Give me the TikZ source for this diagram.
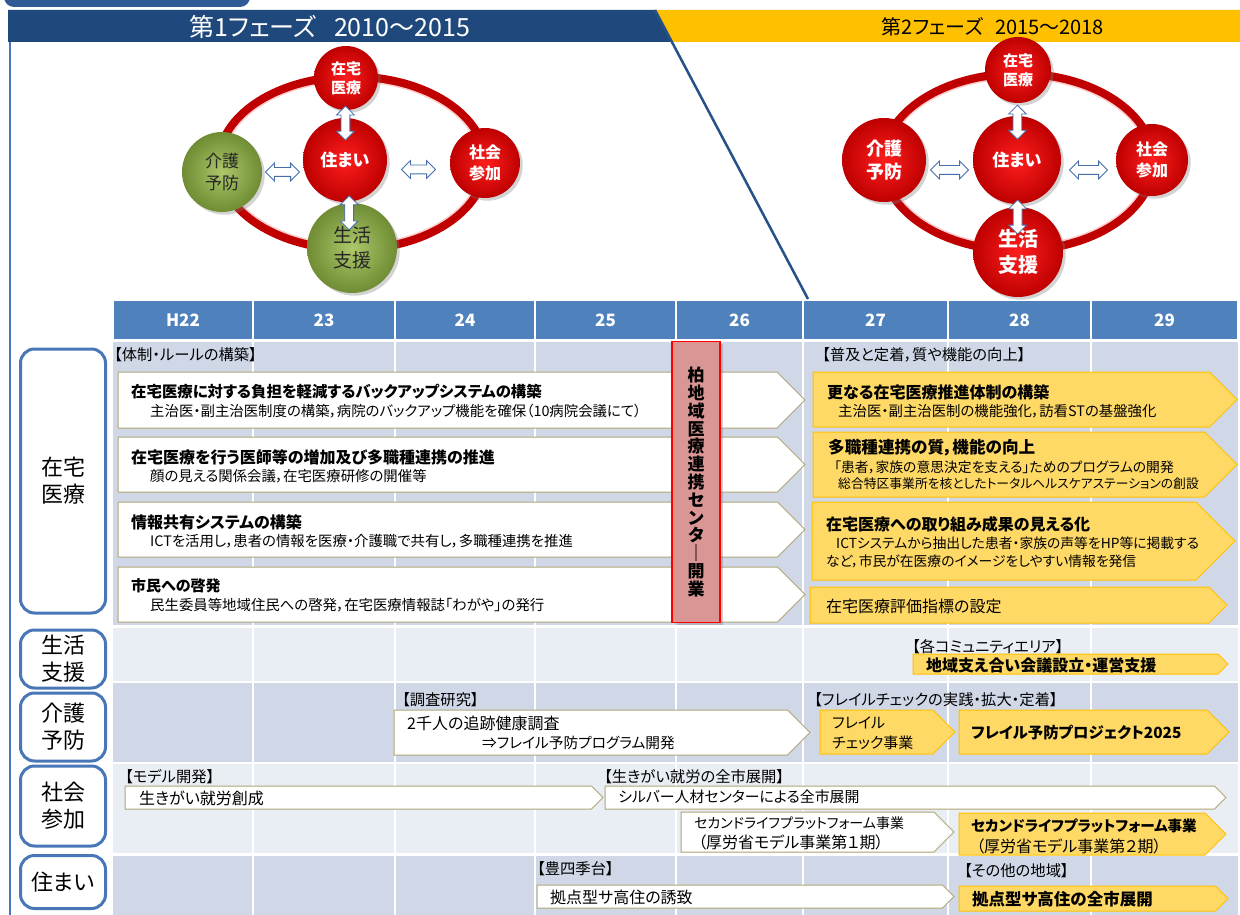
\documentclass[tikz,border=0pt]{standalone}
\usepackage{fontspec}
\setmainfont{Noto Sans CJK JP}[RawFeature=+palt]
\usetikzlibrary{calc,positioning,shapes.arrows,shadows}
\definecolor{navy}{RGB}{31,73,125}
\definecolor{tabblue}{RGB}{47,90,150}
\definecolor{phaseor}{RGB}{255,192,0}
\definecolor{hdrblue}{RGB}{79,129,189}
\definecolor{secblue}{RGB}{72,118,182}
\definecolor{banddark}{RGB}{208,216,232}
\definecolor{bandlight}{RGB}{233,237,244}
\definecolor{tanline}{RGB}{176,166,120}
\definecolor{ylfill}{RGB}{255,217,102}
\definecolor{ylline}{RGB}{255,192,0}
\definecolor{pinkbox}{RGB}{218,150,148}
\definecolor{ringred}{RGB}{192,0,0}
\definecolor{arrowblue}{RGB}{70,110,170}
\newcommand{\fz}[2]{\fontsize{#1pt}{#2pt}\selectfont}
% arrow shaped box: style, name, x1, y1, tip x, y2
\newcommand{\tagbox}[6]{%
  \draw[#1] (#3,#4) coordinate (#2) -- ({#5-(#6-#4)/2},#4) -- (#5,{(#4+#6)/2})
    -- ({#5-(#6-#4)/2},#6) -- (#3,#6) -- cycle;}
\tikzset{
  wbox/.style={draw=tanline, fill=white, line width=1pt},
  ybox/.style={draw=ylline, fill=ylfill, line width=1pt},
  lbl/.style={anchor=west, inner sep=0, font=\fz{15.3}{18}},
  ttl/.style={anchor=west, inner sep=0, font=\bfseries\fz{16}{19}},
  sub/.style={anchor=west, inner sep=0, font=\fz{14.4}{17}},
  txt/.style={anchor=west, inner sep=0, font=\fz{16}{19}},
  secbox/.style={
    draw=secblue,
    line width=3pt,
    rounded corners=14pt,
    fill=white,
    minimum width=85,
    align=center,
    inner sep=0,
    font=\fz{22}{27}
  },
  yr/.style={text=white, inner sep=0, font=\bfseries\fz{17}{20}},
  redball/.style={
    circle,
    inner sep=0,
    align=center,
    text=white,
    inner color={rgb,255:red,255;green,30;blue,30},
    outer color={rgb,255:red,190;green,0;blue,0},
    drop shadow={opacity=0.35}
  },
  greenball/.style={
    circle,
    inner sep=0,
    align=center,
    text=black!85,
    inner color={rgb,255:red,172;green,200;blue,105},
    outer color={rgb,255:red,112;green,140;blue,52},
    drop shadow={opacity=0.35}
  },
  dbl/.style={
    double arrow,
    draw=arrowblue,
    fill=white,
    line width=0.8pt,
    inner sep=4,
    double arrow head extend=4.5,
    minimum height=34
  },
  ring/.style={draw=ringred, line width=9pt},
  ringhi/.style={draw=red!20!white, line width=1.5pt}
}
\begin{document}
\begin{tikzpicture}[x=1pt,y=-1pt]
\useasboundingbox (0,0) rectangle (1240,915);
% phase bands
\fill[tabblue, rounded corners=10pt] (4,-20) rectangle (250,7);
\fill[navy] (8,10) -- (655,10) -- (672,42) -- (8,42) -- cycle;
\fill[phaseor] (655,10) -- (1240,10) -- (1240,42) -- (672,42) -- cycle;
\node[font=\fz{25}{30}, text=white] (ph1) at (330,27) {第1フェーズ\hspace{0.7em}2010～2015};
\node[font=\fz{20}{24}] (ph2) at (993,27) {第2フェーズ\hspace{0.6em}2015～2018};
\coordinate (sl1) at (655,10);
\coordinate (sl2) at (808,299);
\draw[navy!85!hdrblue, line width=2.5pt] (sl1) -- (sl2);
\draw[secblue, line width=2pt] (10,42) -- (10,915);

% phase 1 circles
\draw[ring] (352,163) ellipse [x radius=133, y radius=86];
\draw[ringhi] (352,163) ellipse [x radius=128.5, y radius=81.5];
\node[redball, minimum size=64, font=\bfseries\fz{15}{19}] (p1zt) at (346,78) {在宅\\医療};
\node[redball, minimum size=84, font=\bfseries\fz{17}{20}] (p1sm) at (345,160) {住まい};
\node[greenball, minimum size=80, font=\fz{17}{22}] (p1kg) at (222,172) {介護\\予防};
\node[redball, minimum size=70, font=\bfseries\fz{16}{21}] (p1sk) at (485,163) {社会\\参加};
\node[greenball, minimum size=90, font=\fz{19}{25}] (p1sc) at (352,248) {生活\\支援};
\node[dbl, rotate=90] (a11) at ($(p1zt)!0.55!(p1sm)$) {};
\node[dbl, rotate=90] (a12) at ($(p1sm)!0.6!(p1sc)$) {};
\node[dbl, yshift=-6] (a13) at ($(p1kg.east)!0.5!(p1sm.west)$) {};
\node[dbl, yshift=-8] (a14) at ($(p1sm.east)!0.5!(p1sk.west)$) {};

% phase 2 circles
\draw[ring] (1018,162) ellipse [x radius=135, y radius=88];
\draw[ringhi] (1018,162) ellipse [x radius=130.5, y radius=83.5];
\node[redball, minimum size=66, font=\bfseries\fz{15}{19}] (p2zt) at (1018,70) {在宅\\医療};
\node[redball, minimum size=88, font=\bfseries\fz{17}{20}] (p2sm) at (1017,160) {住まい};
\node[redball, minimum size=84, font=\bfseries\fz{18}{23}] (p2kg) at (884,160) {介護\\予防};
\node[redball, minimum size=72, font=\bfseries\fz{16}{21}] (p2sk) at (1152,160) {社会\\参加};
\node[redball, minimum size=90, font=\bfseries\fz{20}{26}] (p2sc) at (1018,252) {生活\\支援};
\node[dbl, rotate=90] (a21) at ($(p2zt)!0.58!(p2sm)$) {};
\node[dbl, rotate=90] (a22) at ($(p2sm)!0.62!(p2sc)$) {};
\node[dbl, minimum height=38, yshift=-10] (a23) at ($(p2kg.east)!0.5!(p2sm.west)$) {};
\node[dbl, minimum height=38, yshift=-10] (a24) at ($(p2sm.east)!0.5!(p2sk.west)$) {};

% year header
\foreach \xa/\xb/\t [count=\i] in {113/253/H22,253/395/23,395/535/24,535/676/25,676/803/26,803/948/27,948/1091/28,1091/1238/29}{
  \fill[hdrblue] (\xa+1,301) rectangle (\xb-1,339);
  \node[yr] (yr\i) at ({(\xa+\xb)/2},320) {\t};}

% row bands
\foreach \ya/\yb/\c in {342/625/banddark,628/681/bandlight,683/762/banddark,764/853/bandlight,856/915/banddark}
  \fill[\c] (113,\ya) rectangle (1238,\yb);
\foreach \x in {253,395,535,676,803,948,1091}
  \draw[white, line width=2pt] (\x,342) -- (\x,915);

% row titles
\node[secbox, minimum height=264] (s1) at (63,481) {在宅\\医療};
\node[secbox, minimum height=58] (s2) at (63,659) {生活\\支援};
\node[secbox, minimum height=68] (s3) at (63,727) {介護\\予防};
\node[secbox, minimum height=80] (s4) at (63,806) {社会\\参加};
\node[secbox, minimum height=53] (s5) at (63,882) {住まい};

% zaitaku iryo
\node[lbl] (l1) at (114,355) {【体制・ルールの構築】};
\tagbox{wbox}{w1}{118}{372}{805}{428}
\node[ttl, font=\bfseries\fz{15.4}{19}] (w1a) at (131,392) {在宅医療に対する負担を軽減するバックアップシステムの構築};
\node[sub] (w1b) at (150,411) {主治医・副主治医制度の構築，病院のバックアップ機能を確保（10病院会議にて）};
\tagbox{wbox}{w2}{118}{437}{805}{492}
\node[ttl] (w2a) at (131,457) {在宅医療を行う医師等の増加及び多職種連携の推進};
\node[sub] (w2b) at (150,476) {顔の見える関係会議，在宅医療研修の開催等};
\tagbox{wbox}{w3}{118}{502}{805}{557}
\node[ttl] (w3a) at (131,522) {情報共有システムの構築};
\node[sub] (w3b) at (150,541) {ICTを活用し，患者の情報を医療・介護職で共有し，多職種連携を推進};
\tagbox{wbox}{w4}{118}{567}{805}{622}
\node[ttl, font=\bfseries\fz{15}{19}] (w4a) at (131,586) {市民への啓発};
\node[sub] (w4b) at (150,605) {民生委員等地域住民への啓発，在宅医療情報誌「わがや」の発行};

\node[draw=red, fill=pinkbox, line width=1.2pt, minimum width=48, minimum height=281,
  inner sep=0, align=center, font=\bfseries\fz{17}{17.8}, drop shadow={opacity=0.4}] (ctr) at (696,482)
  {柏\\地\\域\\医\\療\\連\\携\\セ\\ン\\タ\\｜\\開\\業};

\node[lbl] (l2) at (822,355) {【普及と定着，質や機能の向上】};
\tagbox{ybox}{y1}{813}{372}{1237}{427}
\node[ttl] (y1a) at (827,392) {更なる在宅医療推進体制の構築};
\node[sub] (y1b) at (838,411) {主治医・副主治医制の機能強化，訪看STの基盤強化};
\tagbox{ybox}{y2}{813}{432}{1237}{497}
\node[ttl, font=\bfseries\fz{16.6}{19}] (y2a) at (828,448) {多職種連携の質，機能の向上};
\node[sub, font=\fz{13.8}{17}] (y2b) at (834,467) {「患者，家族の意思決定を支える」ためのプログラムの開発};
\node[sub, font=\fz{12.8}{16}] (y2c) at (838,484) {総合特区事業所を核としたトータルヘルスケアステーションの創設};
\tagbox{ybox}{y3}{812}{502}{1235}{580}
\node[ttl] (y3a) at (826,524) {在宅医療への取り組み成果の見える化};
\node[sub, font=\fz{13.8}{17}] (y3b) at (836,543) {ICTシステムから抽出した患者・家族の声等をHP等に掲載する};
\node[sub, font=\fz{13.8}{17}] (y3c) at (826,561) {など，市民が在医療のイメージをしやすい情報を発信};
\tagbox{ybox}{y4}{810}{587}{1227}{623}
\node[txt] (y4a) at (826,606) {在宅医療評価指標の設定};

% seikatsu shien
\node[lbl] (l3) at (912,647) {【各コミュニティエリア】};
\tagbox{ybox}{y5}{913}{654}{1228}{674}
\node[ttl] (y5a) at (926,665) {地域支え合い会議設立・運営支援};

% kaigo yobo
\node[lbl] (l4) at (402,700) {【調査研究】};
\tagbox{wbox}{w5}{394}{710}{810}{755}
\node[txt] (w5a) at (407,723) {2千人の追跡健康調査};
\node[txt, font=\fz{14.7}{19}] (w5b) at (482,743) {⇒フレイル予防プログラム開発};
\node[lbl] (l5) at (814,700) {【フレイルチェックの実践・拡大・定着】};
\tagbox{ybox}{y6}{820}{710}{955}{754}
\node[txt, font=\fz{15}{19}] (y6a) at (832,723) {フレイル};
\node[txt, font=\fz{15}{19}] (y6b) at (832,743) {チェック事業};
\tagbox{ybox}{y7}{959}{710}{1229}{754}
\node[ttl, font=\bfseries\fz{15.4}{21}] (y7a) at (971,733) {フレイル予防プロジェクト2025};

% shakai sanka
\node[lbl] (l6) at (125,777) {【モデル開発】};
\tagbox{wbox}{w6}{125}{786}{603}{809}
\node[txt] (w6a) at (139,798) {生きがい就労創成};
\node[lbl] (l7) at (604,777) {【生きがい就労の全市展開】};
\tagbox{wbox}{w7}{605}{786}{1226}{809}
\node[txt, font=\fz{14.9}{19}] (w7a) at (618,797) {シルバー人材センターによる全市展開};
\tagbox{wbox}{w8}{681}{812}{954}{852}
\node[txt, font=\fz{14}{19}] (w8a) at (694,823) {セカンドライフプラットフォーム事業};
\node[txt] (w8b) at (698,842) {（厚労省モデル事業第１期）};
\tagbox{ybox}{y8}{959}{813}{1226}{855}
\node[ttl, font=\bfseries\fz{14.6}{20}] (y8a) at (971,826) {セカンドライフプラットフォーム事業};
\node[txt] (y8b) at (976,846) {（厚労省モデル事業第２期）};

% sumai
\node[lbl] (l8) at (537,869) {【豊四季台】};
\tagbox{wbox}{w9}{537}{885}{954}{908}
\node[txt] (w9a) at (550,897) {拠点型サ高住の誘致};
\node[lbl] (l9) at (964,871) {【その他の地域】};
\tagbox{ybox}{y9}{959}{886}{1228}{911}
\node[ttl, font=\bfseries\fz{16.5}{20}] (y9a) at (972,899) {拠点型サ高住の全市展開};
\end{tikzpicture}
\end{document}
